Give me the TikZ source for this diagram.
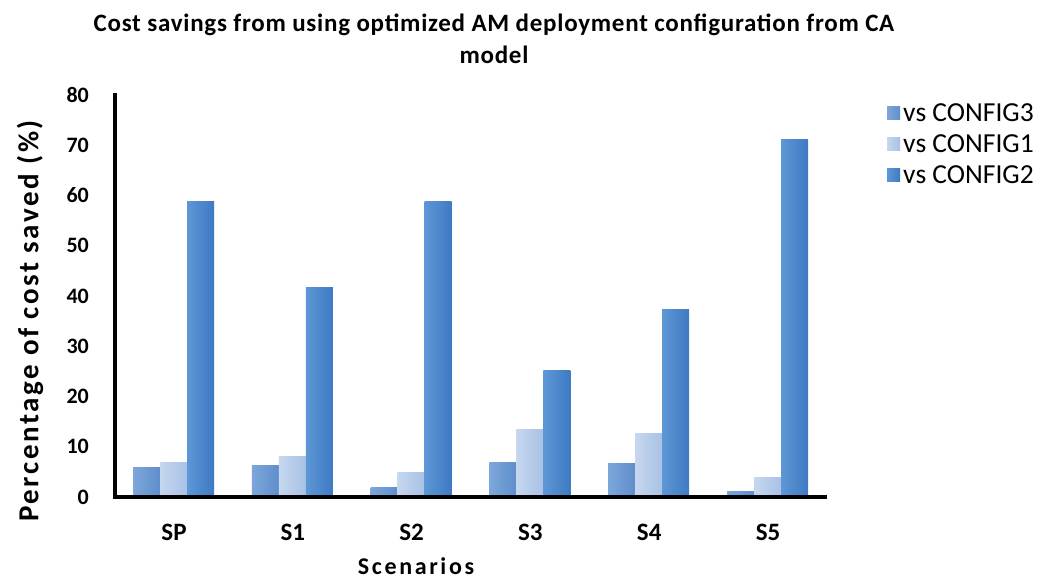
\documentclass[tikz,border=0pt]{standalone}
\usepackage{fontspec}
\setmainfont{Carlito}
\definecolor{cAl}{HTML}{7DA7DB}
\definecolor{cAr}{HTML}{5E8ECB}
\definecolor{cBl}{HTML}{C6D7EF}
\definecolor{cBr}{HTML}{A8C1E5}
\definecolor{cCl}{HTML}{5E97D6}
\definecolor{cCr}{HTML}{3E7AC3}
\begin{document}
\begin{tikzpicture}[x=1pt,y=-1pt,
  barA/.style={left color=cAl,right color=cAr},
  barB/.style={left color=cBl,right color=cBr},
  barC/.style={left color=cCl,right color=cCr},
  ticklab/.style={anchor=east,inner sep=0pt,font=\fontsize{22}{26}\selectfont\bfseries},
  catlab/.style={inner sep=0pt,font=\fontsize{25}{30}\selectfont\bfseries},
  leglab/.style={anchor=west,inner sep=0pt,font=\fontsize{27.5}{30}\selectfont},
  legbox/.style={minimum size=13pt,inner sep=0pt}]
\useasboundingbox[fill=white] (0,0) rectangle (1041,582);
% title
\node[align=center,inner sep=0pt,font=\fontsize{25}{32}\selectfont\bfseries\addfontfeature{LetterSpace=3}] (title) at (494,39)
  {Cost savings from using optimized AM deployment configuration from CA\\model};
% bars
\foreach \i/\a/\b/\c/\lab in {0/5.8/6.8/58.9/SP,1/6.2/8.0/41.6/S1,2/1.8/4.8/58.9/S2,3/6.8/13.5/25.1/S3,4/6.6/12.7/37.4/S4,5/1.0/3.8/71.2/S5}{
  \pgfmathsetmacro\cx{174+118.8*\i}
  \path[barA] ({\cx-41},497) rectangle ({\cx-14},{497-5.025*\a});
  \path[barB] ({\cx-14},497) rectangle ({\cx+13},{497-5.025*\b});
  \path[barC] ({\cx+13},497) rectangle ({\cx+40},{497-5.025*\c});
  \node[catlab] (cat\i) at (\cx,532) {\lab};
}
% axes
\coordinate (o) at (115,497);
\coordinate (ytop) at (115,93);
\coordinate (xend) at (827,497);
\draw[line width=3.5pt] (ytop) -- (o);
\draw[line width=4.5pt] (113,497) -- (xend);
% tick labels
\foreach \v in {0,10,...,80}{
  \node[ticklab] (t\v) at (89,{497-5.025*\v}) {\v};
}
% axis titles
\node[rotate=90,inner sep=0pt,font=\fontsize{29}{32}\selectfont\bfseries\addfontfeature{LetterSpace=9}] (ylab) at (30,321) {Percentage of cost saved (\%)};
\node[inner sep=0pt,font=\fontsize{24}{28}\selectfont\bfseries\addfontfeature{LetterSpace=11}] (xlab) at (416,566) {Scenarios};
% legend
\node[legbox,left color=cAl,right color=cAr] (k1) at (893.5,113) {};
\node[legbox,left color=cBl,right color=cBr] (k2) at (893.5,144) {};
\node[legbox,left color=cCl,right color=cCr] (k3) at (893.5,175) {};
\node[leglab] (l1) at (903,113) {vs CONFIG3};
\node[leglab] (l2) at (903,144) {vs CONFIG1};
\node[leglab] (l3) at (903,175) {vs CONFIG2};
\end{tikzpicture}
\end{document}
